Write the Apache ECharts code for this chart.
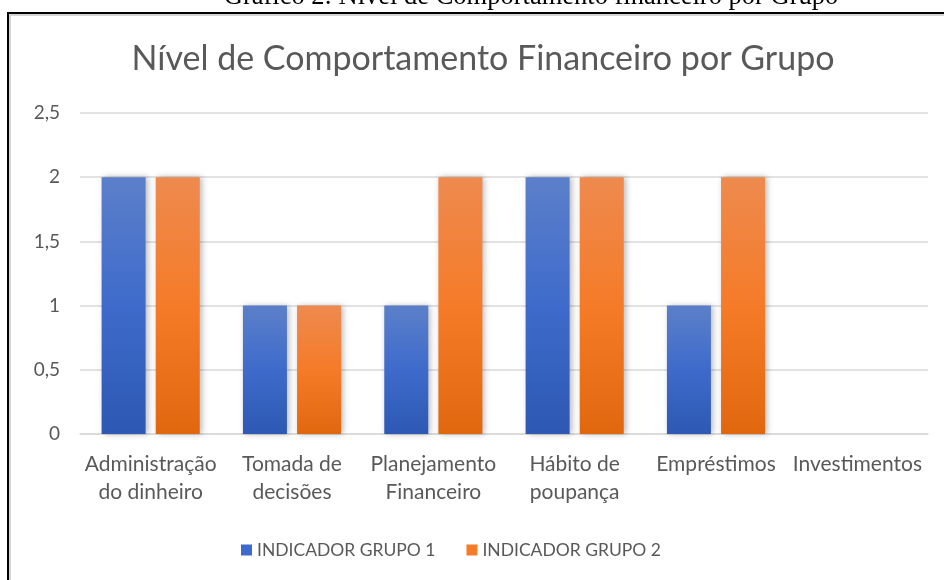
<!DOCTYPE html>
<html><head><meta charset="utf-8">
<script src="https://cdn.jsdelivr.net/npm/echarts@6/dist/echarts.min.js"></script>
<style>html,body{margin:0;padding:0;background:#fff}#c{width:944px;height:580px}</style>
</head><body><div id="c"></div>
<script>
var categories = ['Administração\ndo dinheiro', 'Tomada de\ndecisões', 'Planejamento\nFinanceiro', 'Hábito de\npoupança', 'Empréstimos', 'Investimentos'];
var group1 = [2, 1, 1, 2, 1, 0];
var group2 = [2, 1, 2, 2, 2, 0];
var seriesNames = ['INDICADOR GRUPO 1', 'INDICADOR GRUPO 2'];
var chartTitle = 'Nível de Comportamento Financeiro por Grupo';
var caption = 'Gráfico 2: Nível de Comportamento financeiro por Grupo';

var FONT = 'Lato';
function grad(a, b, c) {
  return new echarts.graphic.LinearGradient(0, 0, 0, 1, [
    {offset: 0, color: a}, {offset: 0.5, color: b}, {offset: 1, color: c}
  ]);
}
var blue = grad('#5b7fc9', '#3e6bcb', '#2d58b3');
var orange = grad('#ee8a4f', '#f57b28', '#e1670f');
var shadow = {shadowBlur: 6, shadowColor: 'rgba(0,0,0,0.28)', shadowOffsetX: 2, shadowOffsetY: 0};

var chart = echarts.init(document.getElementById('c'), null, {renderer: 'canvas'});
chart.setOption({
  animation: false,
  backgroundColor: '#fff',
  title: {
    text: chartTitle, left: 478, top: 37, textAlign: 'center',
    textStyle: {fontFamily: FONT, fontSize: 34, fontWeight: 'normal', color: '#595959'}
  },
  graphic: [
    {type: 'text', x: 531, y: -16, style: {text: caption, fontFamily: 'Liberation Serif', fontSize: 26.5, fill: '#000', align: 'center', verticalAlign: 'top'}, z: 10},
    {type: 'rect', shape: {x: 10, y: 15, width: 960, height: 600}, style: {fill: 'none', stroke: '#c8c8c8', lineWidth: 1.5}, z: 9},
    {type: 'rect', shape: {x: 8, y: 13, width: 960, height: 600}, style: {fill: '#fff', stroke: '#000', lineWidth: 2}, z: -10}
  ],
  legend: {
    data: [
      {name: seriesNames[0], itemStyle: {color: '#3e6bcb'}},
      {name: seriesNames[1], itemStyle: {color: '#f57b28'}}
    ],
    top: 536, left: 236, icon: 'rect', itemWidth: 11, itemHeight: 11, itemGap: 31,
    textStyle: {fontFamily: FONT, fontSize: 17.5, color: '#595959'}
  },
  grid: {left: 80, right: 16, top: 113, bottom: 146},
  xAxis: {
    type: 'category', data: categories,
    axisLine: {lineStyle: {color: '#d9d9d9', width: 1.5}}, axisTick: {show: false},
    axisLabel: {interval: 0, fontFamily: FONT, fontSize: 21, color: '#595959', lineHeight: 28, margin: 16}
  },
  yAxis: {
    type: 'value', min: 0, max: 2.5, interval: 0.5,
    axisLine: {show: false}, axisTick: {show: false},
    splitLine: {lineStyle: {color: '#d9d9d9', width: 1.5}},
    axisLabel: {fontFamily: FONT, fontSize: 19, color: '#595959', margin: 20,
      formatter: function (v) { return String(v).replace('.', ','); }}
  },
  series: [
    {name: seriesNames[0], type: 'bar', data: group1, barWidth: 44, barGap: '23%',
     itemStyle: Object.assign({color: blue}, shadow)},
    {name: seriesNames[1], type: 'bar', data: group2, barWidth: 44,
     itemStyle: Object.assign({color: orange}, shadow)}
  ]
});
</script></body></html>
